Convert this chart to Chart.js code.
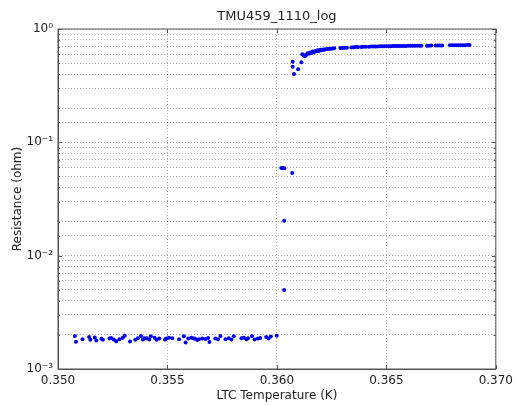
<!DOCTYPE html>
<html>
<head>
<meta charset="utf-8">
<script src="https://cdn.jsdelivr.net/npm/chart.js@4/dist/chart.umd.min.js"></script>
<style>
  body { margin: 0; background: #fff; }
</style>
</head>
<body>
<canvas id="mycanvas" width="518" height="405"></canvas>
<script>
// superconducting branch, below the step
var lowT = [0.35077, 0.35082, 0.35112, 0.35142, 0.35148, 0.35168, 0.35175, 0.35198, 0.35205, 0.35235,
  0.35243, 0.35255, 0.35266, 0.35281, 0.35296, 0.35305, 0.35329, 0.35353, 0.35365, 0.35379,
  0.35388, 0.35394, 0.35405, 0.35417, 0.35424, 0.35441, 0.35450, 0.35462, 0.35489, 0.35495,
  0.35507, 0.35522, 0.35553, 0.35575, 0.35583, 0.35595, 0.35609, 0.35618, 0.35626, 0.35636,
  0.35644, 0.35659, 0.35674, 0.35686, 0.35692, 0.35719, 0.35731, 0.35742, 0.35765, 0.35780,
  0.35792, 0.35803, 0.35838, 0.35849, 0.35861, 0.35868, 0.35886, 0.35898, 0.35913, 0.35924,
  0.35951, 0.35962, 0.35972, 0.35999];
var lowR = [0.00196, 0.00174, 0.00183, 0.00192, 0.00181, 0.00190, 0.00178, 0.00185, 0.00181, 0.00186,
  0.00188, 0.00182, 0.00176, 0.00183, 0.00189, 0.00197, 0.00175, 0.00181, 0.00187, 0.00196,
  0.00182, 0.00187, 0.00187, 0.00182, 0.00195, 0.00189, 0.00181, 0.00186, 0.00182, 0.00186,
  0.00189, 0.00187, 0.00183, 0.00195, 0.00171, 0.00186, 0.00189, 0.00187, 0.00185, 0.00180,
  0.00183, 0.00186, 0.00184, 0.00188, 0.00173, 0.00186, 0.00183, 0.00196, 0.00183, 0.00187,
  0.00182, 0.00195, 0.00187, 0.00189, 0.00183, 0.00187, 0.00196, 0.00182, 0.00186, 0.00188,
  0.00192, 0.00186, 0.00194, 0.00197];

// points in the transition
var stepT = [0.36020, 0.36027, 0.36034, 0.36033, 0.36033, 0.36070, 0.36072, 0.36072, 0.36078, 0.36097, 0.36112];
var stepR = [0.0593, 0.0595, 0.0590, 0.0203, 0.00497, 0.0536, 0.514, 0.465, 0.401, 0.441, 0.508];

// normal branch, above the step
var highT = [0.36116, 0.36122, 0.36128, 0.36134, 0.36140, 0.36146, 0.36152, 0.36158, 0.36163, 0.36169,
  0.36175, 0.36181, 0.36186, 0.36192, 0.36198, 0.36204, 0.36210, 0.36216, 0.36222, 0.36230,
  0.36238, 0.36246, 0.36254, 0.36262,
  0.36290, 0.36300, 0.36310, 0.36320,
  0.36340, 0.36350, 0.36360, 0.36370,
  0.36385, 0.36395, 0.36405,
  0.36420, 0.36430, 0.36440, 0.36450, 0.36460, 0.36470, 0.36480, 0.36490, 0.36500, 0.36510,
  0.36520, 0.36530, 0.36540, 0.36550, 0.36560, 0.36570, 0.36580, 0.36590, 0.36600, 0.36610,
  0.36620, 0.36630, 0.36640, 0.36650, 0.36660,
  0.36685, 0.36695, 0.36705,
  0.36725, 0.36735, 0.36745, 0.36755,
  0.36790, 0.36800, 0.36810, 0.36820, 0.36830, 0.36840, 0.36850, 0.36860, 0.36870, 0.36880];
var highR = [0.600, 0.588, 0.575, 0.592, 0.610, 0.604, 0.621, 0.615, 0.632, 0.624,
  0.641, 0.636, 0.648, 0.641, 0.655, 0.650, 0.660, 0.655, 0.664, 0.667,
  0.670, 0.668, 0.674, 0.676,
  0.680, 0.679, 0.683, 0.684,
  0.688, 0.690, 0.692, 0.693,
  0.695, 0.697, 0.698,
  0.698, 0.700, 0.701, 0.701, 0.702, 0.703, 0.703, 0.704, 0.705, 0.705,
  0.706, 0.707, 0.707, 0.708, 0.708, 0.708, 0.709, 0.709, 0.710, 0.710,
  0.710, 0.711, 0.711, 0.712, 0.712,
  0.713, 0.713, 0.714,
  0.714, 0.715, 0.715, 0.716,
  0.717, 0.717, 0.718, 0.718, 0.719, 0.719, 0.720, 0.720, 0.721, 0.721, 0.722];

var xTicks = [0.350, 0.355, 0.360, 0.365, 0.370];
var chartTitle = 'TMU459_1110_log';

var points = [];
function addPoints(t, r) {
  for (var i in t) {
    points.push({x: t[i], y: r[i]});
  }
}
addPoints(lowT, lowR);
addPoints(stepT, stepR);
addPoints(highT, highR);

var sup = {'-': '\u207B', '0': '\u2070', '1': '\u00B9', '2': '\u00B2', '3': '\u00B3'};
function decade(v) {
  var e = Math.log10(v);
  if (Math.abs(e - Math.round(e)) > 1e-6) return null;
  return Math.round(e);
}

var textColor = '#222';
var gridColor = '#b4b4b4';
var frameColor = '#555';

// box round the plot with inward tick marks on all four sides, title centred over the plot
var frame = {
  id: 'frame',
  afterDraw: function(chart) {
    var ctx = chart.ctx;
    var a = chart.chartArea;
    var xs = chart.scales.x, ys = chart.scales.y;
    ctx.save();
    ctx.strokeStyle = frameColor;
    ctx.lineWidth = 1;
    ctx.strokeRect(a.left, a.top, a.right - a.left, a.bottom - a.top);
    ctx.beginPath();
    xTicks.forEach(function(v) {
      var px = Math.round(xs.getPixelForValue(v)) + 0.5;
      ctx.moveTo(px, a.bottom); ctx.lineTo(px, a.bottom - 4);
      ctx.moveTo(px, a.top); ctx.lineTo(px, a.top + 4);
    });
    ys.ticks.forEach(function(t) {
      var py = Math.round(ys.getPixelForValue(t.value)) + 0.5;
      var len = decade(t.value) === null ? 2 : 4;
      ctx.moveTo(a.left, py); ctx.lineTo(a.left + len, py);
      ctx.moveTo(a.right, py); ctx.lineTo(a.right - len, py);
    });
    ctx.stroke();

    ctx.fillStyle = textColor;
    ctx.font = '13px "DejaVu Sans"';
    ctx.textAlign = 'center';
    ctx.textBaseline = 'middle';
    ctx.fillText(chartTitle, (a.left + a.right) / 2, 17);
    ctx.restore();
  }
};

var ctx = document.getElementById('mycanvas');
var chart = new Chart(ctx, {
  type: 'scatter',
  data: {
    datasets: [{
      label: 'Resistance',
      data: points,
      backgroundColor: '#0000ee',
      borderWidth: 0,
      pointRadius: 2
    }]
  },
  options: {
    responsive: false,
    animation: false,
    layout: {padding: {left: 0, right: 19, top: 29, bottom: 0}},
    plugins: {
      legend: {display: false},
      tooltip: {enabled: false},
      title: {display: false}
    },
    scales: {
      x: {
        type: 'linear',
        min: 0.350,
        max: 0.370,
        afterFit: function(s) { s.height = 36; },
        afterBuildTicks: function(s) { s.ticks = xTicks.map(function(v) { return {value: v}; }); },
        ticks: {
          color: textColor,
          padding: 5,
          font: {family: 'DejaVu Sans', size: 12},
          callback: function(v) { return Number(v).toFixed(3); }
        },
        grid: {color: gridColor, lineWidth: 1, drawTicks: false},
        border: {color: frameColor, dash: [1, 2]},
        title: {
          display: true,
          text: 'LTC Temperature (K)',
          color: textColor,
          font: {family: 'DejaVu Sans', size: 12},
          padding: {top: 0, bottom: 2}
        }
      },
      y: {
        type: 'logarithmic',
        min: 0.001,
        max: 1,
        afterFit: function(s) { s.width = 58; },
        ticks: {
          autoSkip: false,
          color: textColor,
          padding: 5,
          font: {family: 'DejaVu Sans', size: 12},
          callback: function(v) {
            var e = decade(v);
            if (e === null) return '';
            return '10' + String(e).split('').map(function(c) { return sup[c]; }).join('');
          }
        },
        grid: {color: gridColor, lineWidth: 1, drawTicks: false},
        border: {color: frameColor, dash: [1, 2]},
        title: {
          display: true,
          text: 'Resistance (ohm)',
          color: textColor,
          font: {family: 'DejaVu Sans', size: 12},
          padding: {top: 11, bottom: 0}
        }
      }
    }
  },
  plugins: [frame]
});
</script>
</body>
</html>
